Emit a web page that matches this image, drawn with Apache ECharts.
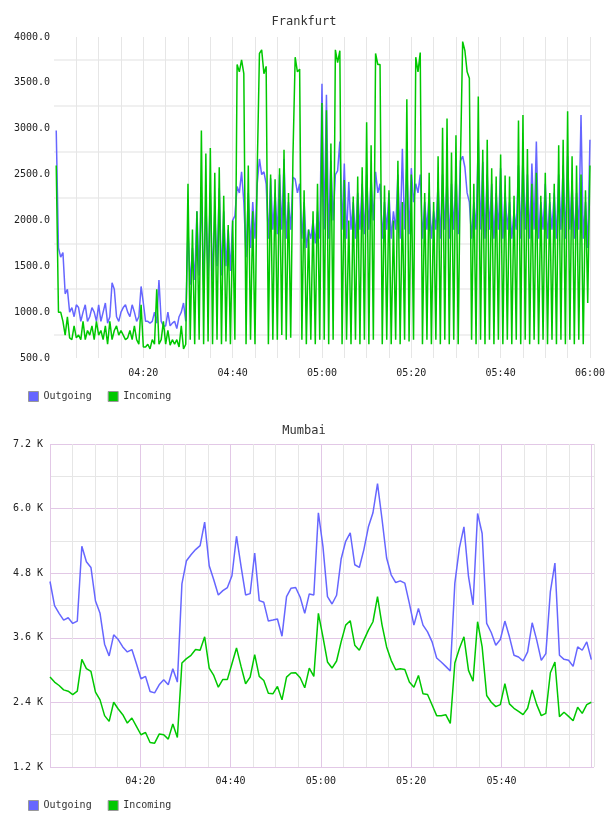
<!DOCTYPE html>
<html>
<head>
<meta charset="utf-8">
<script src="https://cdn.jsdelivr.net/npm/echarts@6/dist/echarts.min.js"></script>
<style>
  html, body { margin: 0; padding: 0; background: #fff; }
  #chart { width: 608px; height: 816px; }
</style>
</head>
<body>
<div id="chart"></div>
<script>
// Frankfurt: samples every 30 s, first at 04:00:30 (minutes after 04:00)
var frankStart = 0.5;
var frankStep = 0.5;
var frankOutgoing = [
  2980, 1700, 1600, 1650, 1200, 1250, 1000, 1050, 950, 1080, 1050, 900, 1000, 1080, 900, 950,
  1050, 1000, 900, 1080, 900, 1000, 1100, 880, 950, 1320, 1250, 950, 900, 1000, 1050, 1080,
  1000, 950, 1080, 1000, 900, 950, 1280, 1100, 900, 900, 880, 900, 1000, 880, 1350, 900,
  850, 850, 1000, 850, 880, 900, 820, 950, 1000, 1100, 900,
  // 04:30 onwards
  1900, 1300, 1700, 1350, 2100, 1400, 2300, 1300, 2200, 1400, 2300, 1350, 2100, 1500, 2350, 1400,
  2100, 1500, 1900, 1450, 2000, 2050, 2370, 2300, 2530, 2200, 1600, 2300, 1700, 2200, 1800, 2400,
  2670, 2500, 2530, 2400, 1800, 2460, 1900, 2300, 1850, 2500, 1900, 2670, 1800, 2200, 1900, 2470,
  2450, 2300, 2400, 1800, 2200, 1700, 1900, 1800, 2000, 1750, 2100, 1800, 3490, 1900, 3370, 1800,
  2650, 2000, 2500, 2540, 2860, 1900, 2620, 1800, 2420, 1900, 2200, 1800, 2300, 1900, 2400, 1850,
  2500, 1900, 2460, 2000, 2530, 2300, 2400, 1800, 2200, 1900, 2300, 1800, 2100, 1900, 2500, 1800,
  2780, 1900, 2600, 1850, 2570, 2200, 2400, 2300, 2500, 1800, 2200, 1900, 2300, 1800, 2100, 1900,
  2400, 1800, 2500, 1900, 2450, 1800, 2400, 1900, 2500, 1850, 2650, 2700, 2580, 2300, 2200, 1800,
  2200, 1900, 2880, 1900, 2640, 1800, 2500, 1900, 2400, 1800, 2300, 1900, 2570, 1800, 2300, 1900,
  2200, 1800, 2100, 1900, 2600, 1800, 2700, 1900, 2500, 1800, 2620, 1900, 2860, 1800, 2200, 1900,
  2400, 1800, 2200, 1900, 2300, 1800, 2500, 1900, 2600, 1800, 2700, 1900, 2400, 1800, 2300, 1900,
  3150, 1800, 2200, 1700, 2880
];
var frankIncoming = [
  2600, 1000, 1000, 900, 750, 950, 720, 700, 850, 720, 750, 700, 900, 700, 800, 750,
  850, 700, 900, 750, 800, 700, 850, 650, 900, 700, 800, 850, 750, 800, 750, 700,
  720, 800, 700, 850, 700, 650, 1080, 620, 620, 650, 600, 700, 650, 1250, 650, 700,
  900, 650, 800, 640, 700, 650, 700, 620, 850, 600, 650,
  // 04:30 onwards
  2400, 700, 1900, 650, 2100, 700, 2980, 650, 2730, 680, 2790, 650, 2520, 700, 2580, 650,
  2270, 680, 1950, 650, 2000, 700, 3700, 3620, 3750, 3600, 650, 2600, 700, 2100, 650, 2550,
  3820, 3860, 3600, 3680, 650, 2500, 700, 2450, 700, 2570, 750, 2770, 700, 2300, 720, 2700,
  3780, 3620, 3650, 700, 2330, 650, 1900, 700, 2100, 650, 2400, 700, 3280, 700, 3200, 650,
  2840, 700, 3860, 3720, 3850, 650, 2440, 700, 2000, 650, 2260, 700, 2480, 650, 2580, 700,
  3070, 650, 2820, 700, 3820, 3700, 3700, 650, 2380, 700, 2330, 650, 2000, 700, 2650, 650,
  2200, 700, 3320, 680, 2500, 700, 3780, 3620, 3830, 650, 2300, 700, 2520, 650, 2200, 700,
  2700, 650, 3010, 700, 3110, 650, 2740, 700, 2930, 650, 2640, 3950, 3850, 3620, 3550, 700,
  2400, 650, 3350, 700, 2770, 650, 2880, 700, 2570, 650, 2480, 700, 2720, 650, 2490, 700,
  2480, 650, 2270, 700, 3090, 650, 3150, 700, 2780, 650, 2400, 700, 2520, 650, 2270, 700,
  2520, 650, 2300, 700, 2400, 650, 2820, 700, 2880, 650, 3190, 700, 2700, 650, 2600, 700,
  2500, 650, 2330, 1100, 2600
];

// Mumbai: samples about every minute, first at 04:00
var mumbaiStart = 0;
var mumbaiStep = 1.0076;
var mumbaiOutgoing = [
  4646, 4197, 4054, 3929, 3973, 3867, 3911, 5300, 5013, 4907, 4284, 4054, 3481, 3263, 3655, 3568,
  3431, 3337, 3381, 3119, 2839, 2883, 2602, 2577, 2727, 2820, 2727, 3026, 2777, 4602,
  5032, 5144, 5238, 5312, 5748, 4939, 4677, 4396, 4477, 4534, 4752, 5487, 4926, 4396, 4421, 5175,
  4291, 4259, 3911, 3929, 3948, 3630, 4365, 4521, 4534, 4353, 4054, 4415, 4396, 5923,
  5300, 4365, 4228, 4390, 5063, 5393, 5549, 4957, 4907, 5238, 5661, 5923, 6465, 5798, 5082, 4770,
  4627, 4658, 4615, 4241, 3836, 4147, 3836, 3711, 3524, 3225, 3150, 3069, 2982, 4615,
  5269, 5661, 4739, 4210, 5910, 5537, 3867, 3699, 3462, 3568, 3911, 3618, 3275, 3244, 3169, 3337,
  3879, 3556, 3182, 3306, 4459, 4988, 3275, 3200, 3182, 3069, 3431, 3369, 3524, 3194
];
var mumbaiIncoming = [
  2870, 2777, 2714, 2633, 2608, 2546, 2608, 3200, 3026, 2976, 2590, 2447, 2154, 2048, 2403, 2278,
  2172, 2017, 2110, 1954, 1799, 1842, 1655, 1643, 1811, 1799, 1718, 1998, 1749, 3132,
  3213, 3275, 3381, 3369, 3618, 3038, 2901, 2683, 2827, 2827, 3119, 3412, 3069, 2746, 2870, 3288,
  2883, 2808, 2571, 2559, 2696, 2447, 2870, 2945, 2951, 2858, 2671, 3038, 2883, 4054,
  3618, 3151, 3038, 3169, 3524, 3836, 3917, 3462, 3369, 3556, 3742, 3898, 4365, 3836, 3431, 3182,
  3007, 3026, 3013, 2777, 2683, 2901, 2559, 2546, 2353, 2154, 2154, 2172, 2010, 3132,
  3400, 3618, 2995, 2795, 3898, 3431, 2528, 2403, 2322, 2359, 2746, 2372, 2291, 2235, 2172, 2291,
  2633, 2359, 2154, 2197, 2951, 3150, 2135, 2216, 2141, 2060, 2309, 2197, 2359, 2403
];

var blue = '#6666ff';
var green = '#00c800';
var font = 'DejaVu Sans Mono';

function pairs(start, step, values) {
  return values.map(function (v, i) { return [start + step * i, v]; });
}
function clock(v) {
  if (v % 20 !== 0 || v === 0) return '';
  var h = 4 + Math.floor(v / 60);
  var m = v % 60;
  return '0' + h + ':' + (m < 10 ? '0' : '') + m;
}

var chart = echarts.init(document.getElementById('chart'));
chart.setOption({
  animation: false,
  textStyle: { fontFamily: font },
  title: [
    { text: 'Frankfurt', left: 'center', top: 11,
      textStyle: { fontFamily: font, fontSize: 12, fontWeight: 'normal', color: '#333' } },
    { text: 'Mumbai', left: 'center', top: 420,
      textStyle: { fontFamily: font, fontSize: 12, fontWeight: 'normal', color: '#333' } }
  ],
  legend: [
    { left: 23, top: 386, itemWidth: 10, itemHeight: 10, itemGap: 16, icon: 'rect',
      data: ['Outgoing', 'Incoming'],
      itemStyle: { borderColor: '#999', borderWidth: 1 },
      textStyle: { fontFamily: font, fontSize: 10, color: '#333' } },
    { left: 23, top: 795, itemWidth: 10, itemHeight: 10, itemGap: 16, icon: 'rect',
      data: ['Outgoing', 'Incoming'],
      itemStyle: { borderColor: '#999', borderWidth: 1 },
      textStyle: { fontFamily: font, fontSize: 10, color: '#333' } }
  ],
  grid: [
    { left: 54, right: 16, top: 37, height: 321 },
    { left: 50, right: 14, top: 444, height: 323 }
  ],
  xAxis: [
    { type: 'value', gridIndex: 0, min: 0, max: 120, interval: 5,
      axisLine: { show: false }, axisTick: { show: false },
      axisLabel: { formatter: clock, fontFamily: font, fontSize: 10, color: '#222', margin: 10 },
      splitLine: { show: true, showMinLine: false, lineStyle: { color: '#e6e6e6', width: 1 } } },
    { type: 'value', gridIndex: 1, min: 0, max: 120.5, interval: 5,
      axisLine: { show: false }, axisTick: { show: false },
      axisLabel: { formatter: function (v) { return v >= 120 ? '' : clock(v); },
        fontFamily: font, fontSize: 10, color: '#222', margin: 9 },
      splitLine: { show: true, lineStyle: { color: ['#e2c8e6', '#e6e6e6', '#e6e6e6', '#e6e6e6'], width: 1 } } }
  ],
  yAxis: [
    { type: 'value', gridIndex: 0, min: 500, max: 4000, interval: 250,
      axisLine: { show: false }, axisTick: { show: false },
      axisLabel: { formatter: function (v) { return v % 500 === 0 ? v.toFixed(1) : ''; },
        fontFamily: font, fontSize: 10, color: '#222', margin: 4 },
      splitLine: { show: true, lineStyle: { color: ['rgba(0,0,0,0)', '#f0f0f0'], width: 2 } } },
    { type: 'value', gridIndex: 1, min: 1200, max: 7200, interval: 1200,
      axisLine: { show: false }, axisTick: { show: false },
      axisLabel: { formatter: function (v) { return (v / 1000).toFixed(1) + ' K'; },
        fontFamily: font, fontSize: 10, color: '#222', margin: 7 },
      splitLine: { show: true, lineStyle: { color: '#e2c8e6', width: 1 } },
      minorTick: { show: false, splitNumber: 2 },
      minorSplitLine: { show: true, lineStyle: { color: '#e6e6e6', width: 1 } } }
  ],
  series: [
    { name: 'Outgoing', type: 'line', xAxisIndex: 0, yAxisIndex: 0, showSymbol: false,
      color: blue, lineStyle: { width: 1.5 }, data: pairs(frankStart, frankStep, frankOutgoing) },
    { name: 'Incoming', type: 'line', xAxisIndex: 0, yAxisIndex: 0, showSymbol: false,
      color: green, lineStyle: { width: 1.5 }, data: pairs(frankStart, frankStep, frankIncoming) },
    { name: 'Outgoing', type: 'line', xAxisIndex: 1, yAxisIndex: 1, showSymbol: false,
      color: blue, lineStyle: { width: 1.5 }, data: pairs(mumbaiStart, mumbaiStep, mumbaiOutgoing) },
    { name: 'Incoming', type: 'line', xAxisIndex: 1, yAxisIndex: 1, showSymbol: false,
      color: green, lineStyle: { width: 1.5 }, data: pairs(mumbaiStart, mumbaiStep, mumbaiIncoming) }
  ]
});
</script>
</body>
</html>
